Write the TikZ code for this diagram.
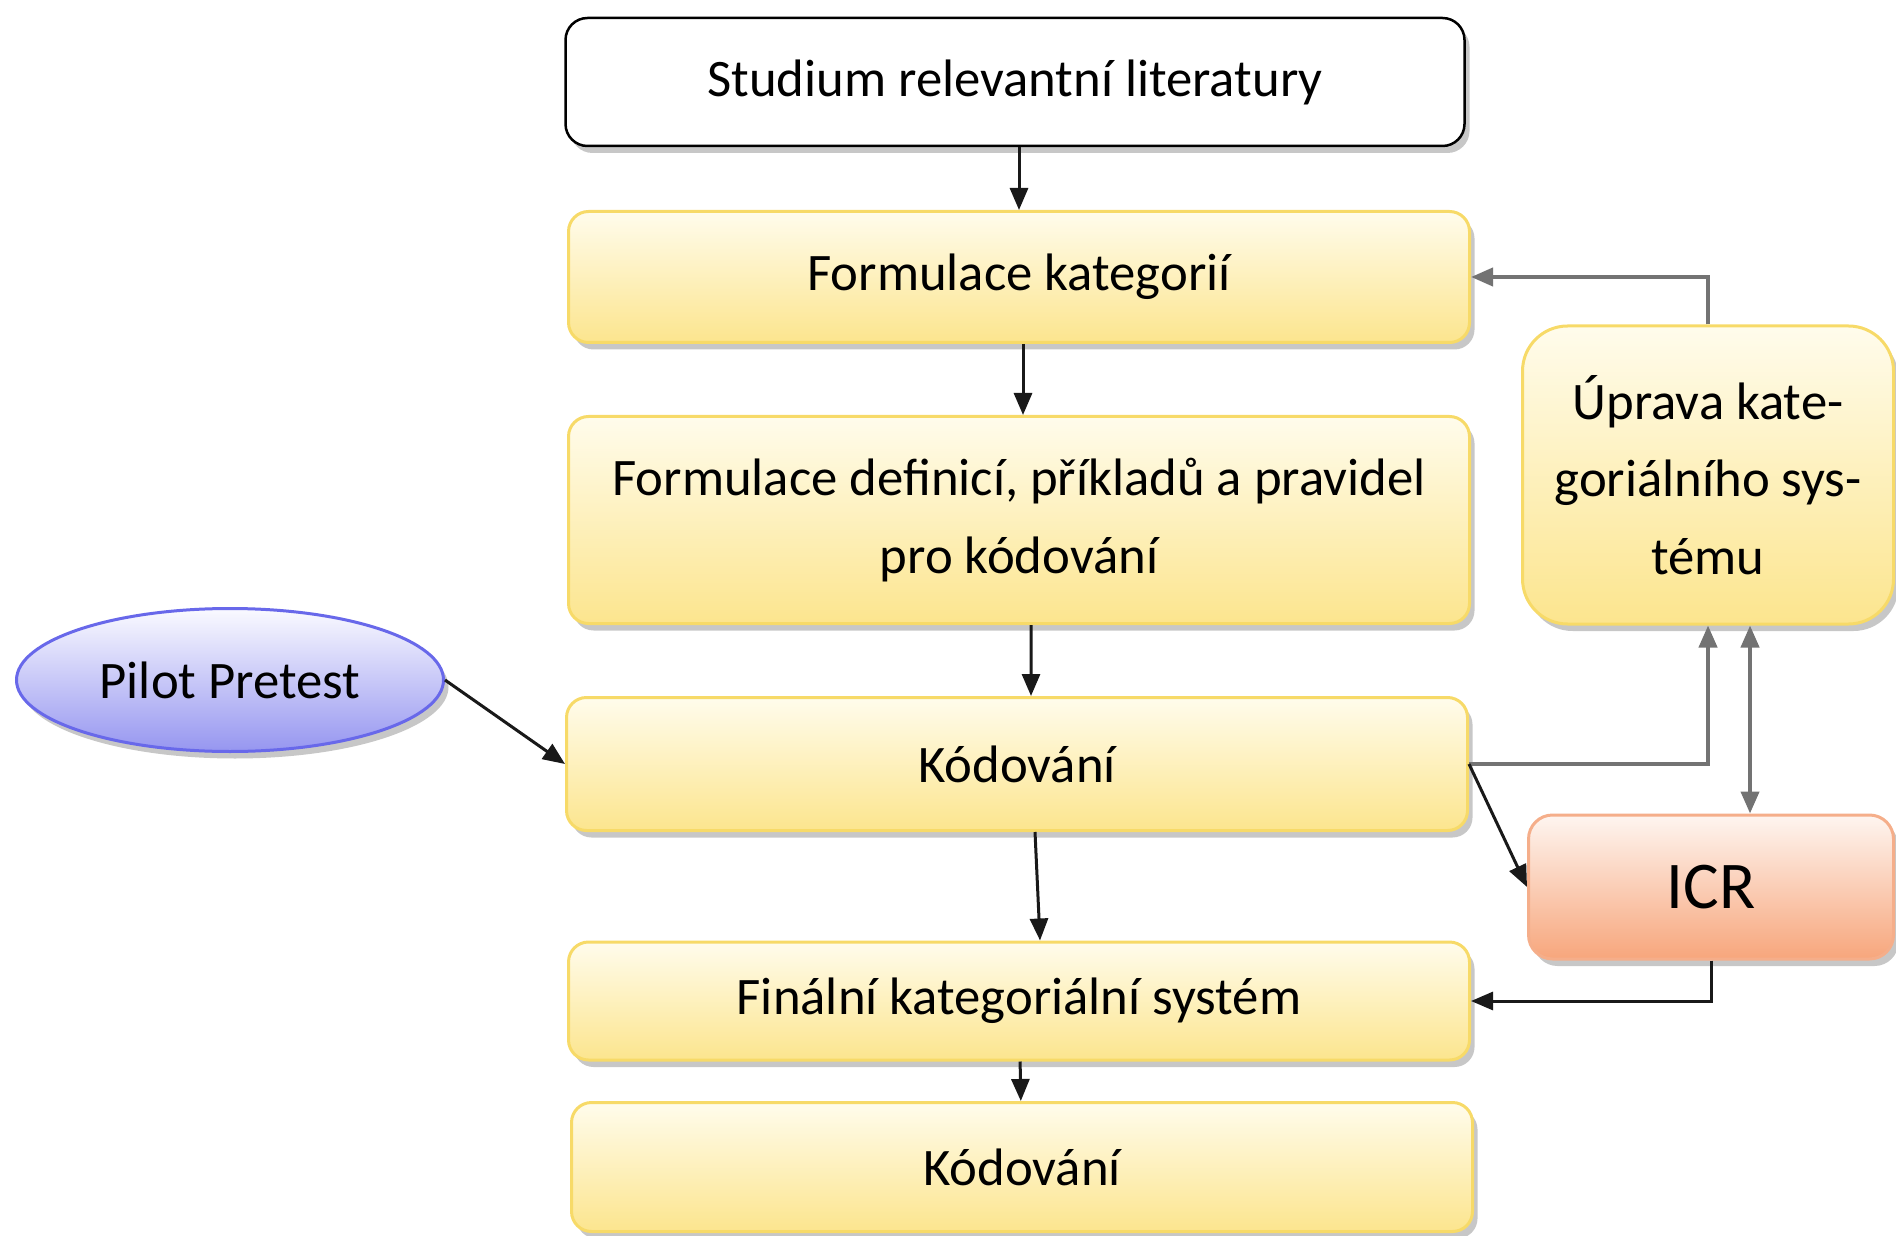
\documentclass[tikz,border=0pt]{standalone}
\usepackage{fontspec}
\setmainfont{Carlito}
\usetikzlibrary{positioning}
\usetikzlibrary{calc}
\usetikzlibrary{shapes.geometric}
\usetikzlibrary{arrows.meta}
\usetikzlibrary{shadows}
\definecolor{stage top}{HTML}{FFFCEC}
\definecolor{stage bottom}{HTML}{FCE58E}
\definecolor{stage line}{HTML}{F7DA68}
\definecolor{check top}{HTML}{FEF5F0}
\definecolor{check bottom}{HTML}{F7A67C}
\definecolor{check line}{HTML}{F5AE8A}
\definecolor{pilot top}{HTML}{FAFAFF}
\definecolor{pilot bottom}{HTML}{9696F0}
\definecolor{pilot line}{HTML}{6868EA}
\colorlet{flow colour}{black!90}
\colorlet{loop colour}{black!55}
\tikzset{
    % Solid triangular tips, as in the original chart
    >={Triangle[length=2.2mm, width=1.8mm]},
%
    % We almost always want centre aligned node text
    every node/.style={align=center, font=\fontsize{15}{22}\selectfont},
%
    % Box styles
    soft shadow/.style={
        drop shadow={shadow xshift=0.5mm, shadow yshift=-0.7mm,
            fill=black, opacity=0.22}},
    source box/.style={
        draw=black, fill=white, line width=0.25mm, rounded corners=2.2mm,
        soft shadow, inner sep=0, minimum width=89.9mm, minimum height=12.8mm},
    stage/.style={
        draw=stage line, line width=0.3mm, rounded corners=2mm,
        top color=stage top, bottom color=stage bottom, soft shadow,
        inner sep=0, minimum width=90.1mm, minimum height=13.3mm},
    revise box/.style={
        draw=stage line, line width=0.3mm, rounded corners=4.5mm,
        top color=stage top, bottom color=stage bottom, soft shadow,
        inner sep=0, minimum width=37.1mm, minimum height=29.8mm},
    check box/.style={
        draw=check line, line width=0.3mm, rounded corners=2.4mm,
        top color=check top, bottom color=check bottom, soft shadow,
        inner sep=0, minimum width=36.5mm, minimum height=14.4mm,
        font=\fontsize{19}{23}\selectfont},
    pilot/.style={
        ellipse, draw=pilot line, line width=0.3mm,
        top color=pilot top, bottom color=pilot bottom, soft shadow,
        inner sep=0, minimum width=42.7mm, minimum height=14.3mm},
%
    % Next some lines
    flow/.style={draw=flow colour, line width=0.3mm, ->},
    loop line/.style={draw=loop colour, line width=0.4mm, ->},
}

\begin{document}
\begin{tikzpicture}[x=0.1mm, y=-0.1mm]
    \useasboundingbox (0,0) rectangle (1896,1235);

    % main column
    \path
        (1015,82) node [source box] (studium) {Studium relevantní literatury}
        (1019,277) node [stage, minimum height=13.1mm] (formkat) {Formulace kategorií}
        (1019,520) node [stage, minimum height=20.7mm] (formdef)
            {Formulace definicí, příkladů a pravidel\\pro kódování}
        (1017,764) node [stage] (kod) {Kódování}
        (1019,1001) node [stage, minimum height=11.8mm] (final) {Finální kategoriální systém}
        (1022,1167) node [stage, minimum height=12.9mm] (kod again) {Kódování};

    % side boxes
    \path
        (1708,475) node [revise box] (uprava) {Úprava kate-\\goriálního sys-\\tému}
        (1711,887) node [check box] (icr) {ICR}
        (230,680) node [pilot] (pilot) {Pilot Pretest};

    \path [flow] (studium.south -| formkat) -- (formkat.north);
    \path [flow] ([xshift=0.4mm]formkat.south) -- ([xshift=0.4mm]formdef.north);
    \path [flow] ([xshift=1.2mm]formdef.south) -- ([xshift=1.4mm]kod.north);
    \path [flow] ([xshift=1.8mm]kod.south) -- ([xshift=2.1mm]final.north);
    \path [flow] (final) -- (kod again);
    \path [flow] (pilot.east) -- (kod.west);

    \path [loop line] (uprava.north) |- (formkat.east);
    \path [loop line] (kod.east) -| (uprava.south);
    \path [loop line, <->] ([xshift=4.2mm]uprava.south) -- ([xshift=3.9mm]icr.north);
    \path [flow] (kod.east) -- (icr.west);
    \path [flow] (icr.south) |- (final.east);
\end{tikzpicture}
\end{document}
